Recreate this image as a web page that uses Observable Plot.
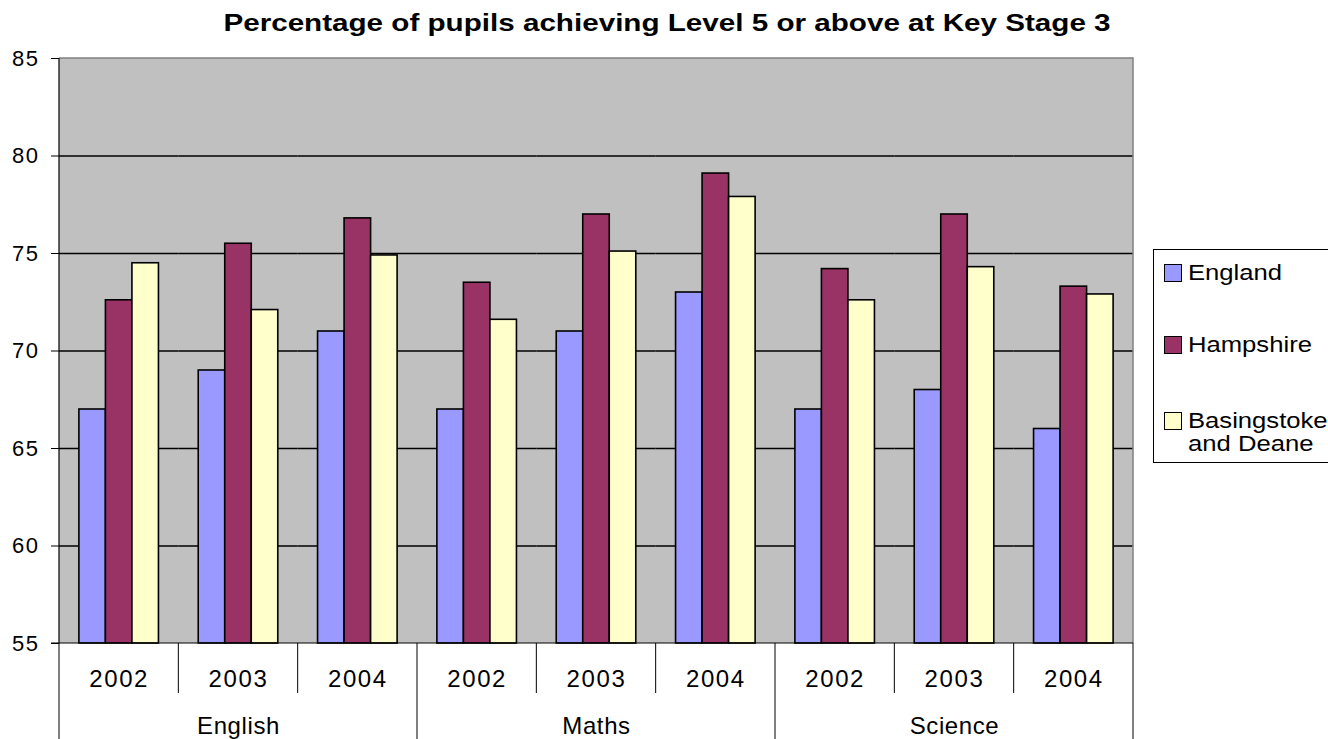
<!DOCTYPE html>
<html>
<head>
<meta charset="utf-8">
<script src="https://cdn.jsdelivr.net/npm/d3@7"></script>
<script src="https://cdn.jsdelivr.net/npm/@observablehq/plot@0.6"></script>
<style>
  body { margin: 0; background: #fff; font-family: "Liberation Sans", Arial, sans-serif; }
  #wrap { position: relative; width: 1328px; height: 739px; overflow: hidden; }
  #chart { position: absolute; left: 0; top: 0; }
  #title { position: absolute; left: 0; top: 11px; width: 1334px; text-align: center;
           font-weight: bold; font-size: 24px; line-height: 24px; color: #000;
           transform: scaleX(1.234); transform-origin: 667px 50%; }
  #legend { position: absolute; left: 1153px; top: 249px; width: 190px; height: 214px;
            border: 1px solid #000; box-sizing: border-box; background: #fff; font-size: 22px; color: #000; }
  .item { position: absolute; left: 10px; display: flex; align-items: flex-start; }
  .sw { width: 16px; height: 16px; border: 1px solid #000; margin-top: 3px; margin-right: 6px; flex: none; }
  .lbl { line-height: 23px; text-align: left; white-space: nowrap; transform: scaleX(1.165); transform-origin: 0 50%; }
  .yearlbl text { letter-spacing: 1.6px; }
  .subjlbl text { letter-spacing: 0.6px; }
</style>
</head>
<body>
<div id="wrap">
  <div id="chart"></div>
  <div id="title"></div>
  <div id="legend"></div>
</div>
<script>
(function () {
// ---- data ----
const titleText = "Percentage of pupils achieving Level 5 or above at Key Stage 3";
const subjects = ["English", "Maths", "Science"];
const years = ["2002", "2003", "2004"];
const series = ["England", "Hampshire", "Basingstoke and Deane"];
const colors = ["#9999FF", "#993366", "#FFFFCC"];
const england     = [67, 69, 71,   67, 71, 73,   67, 68, 66];
const hampshire   = [72.6, 75.5, 76.8,   73.5, 77, 79.1,   74.2, 77, 73.3];
const basingstoke = [74.5, 72.1, 74.9,   71.6, 75.1, 77.9,   72.6, 74.3, 72.9];
const yTicks = [55, 60, 65, 70, 75, 80, 85];
const yDomain = [55, 85];

// ---- build table ----
const seriesValues = [england, hampshire, basingstoke];
const keys = [];
const labels = [];
const rows = [];
subjects.forEach((s, i) => years.forEach((yr, j) => {
  const k = i * years.length + j;
  const key = s + " " + yr;
  keys.push(key);
  labels.push({key, subject: s, year: yr});
  seriesValues.forEach((arr, si) => rows.push({key, subject: s, year: yr, series: series[si], value: arr[k]}));
}));

const baseline = yDomain[0];
const font = '"Liberation Sans", Arial, sans-serif';

const plot = Plot.plot({
  width: 1140,
  height: 739,
  marginLeft: 59,
  marginRight: 7,
  marginTop: 58,
  marginBottom: 96,
  style: {fontFamily: font, fontSize: "22px", color: "#000", background: "transparent", overflow: "visible"},
  fx: {domain: keys, padding: 0, round: false, axis: null},
  x: {domain: series, paddingInner: 0, paddingOuter: 0.75, round: false, axis: null},
  y: {domain: yDomain, ticks: yTicks, tickSize: 8, tickPadding: 12, label: null, tickFormat: d => String(d)},
  color: {domain: series, range: colors},
  marks: [
    Plot.ruleY(yTicks.filter(t => t !== yDomain[0] && t !== yDomain[1]), {stroke: "#000", strokeWidth: 1.3}),
    Plot.barY(rows, {fx: "key", x: "series", y1: baseline, y2: "value", fill: "series", stroke: "#000", strokeWidth: 1.6}),
    Plot.text(labels, {fx: "key", text: "year", frameAnchor: "bottom", dy: 36, lineAnchor: "middle",
      fill: "#000", fontSize: 24, className: "yearlbl"}),
    Plot.text(labels.filter(d => d.year === years[1]), {fx: "key", text: "subject", frameAnchor: "bottom", dy: 83,
      lineAnchor: "middle", fill: "#000", fontSize: 24, className: "subjlbl"})
  ]
});
document.getElementById("chart").appendChild(plot);

// ---- frame decorations derived from the plot's scales ----
const svg = d3.select(plot);
svg.selectAll('[aria-label="y-axis tick label"] text').style("letter-spacing", "1.5px");
const ys = plot.scale("y");
const fxs = plot.scale("fx");
const yTop = ys.apply(yDomain[1]);
const yBottom = ys.apply(yDomain[0]);
const bounds = keys.map(k => fxs.apply(k));
bounds.push(fxs.apply(keys[keys.length - 1]) + fxs.bandwidth);
const xLeft = bounds[0], xRight = bounds[bounds.length - 1];

svg.insert("rect", ":first-child")
  .attr("x", xLeft).attr("y", yTop).attr("width", xRight - xLeft).attr("height", yBottom - yTop)
  .attr("fill", "#C0C0C0");
const deco = svg.append("g").attr("fill", "none");
deco.append("path").attr("d", `M${xLeft},${yTop}H${xRight}V${yBottom}`).attr("stroke", "#808080").attr("stroke-width", 1.5);
deco.append("path").attr("d", `M${xLeft},${yTop}V${yBottom}`).attr("stroke", "#000").attr("stroke-width", 1.2);
deco.append("path").attr("d", `M${xLeft - 8},${yBottom}H${xRight}`).attr("stroke", "#000").attr("stroke-width", 1.2);
bounds.forEach((bx, i) => {
  const len = (i % years.length === 0) ? 96 : 50;
  deco.append("line").attr("x1", bx).attr("x2", bx).attr("y1", yBottom).attr("y2", yBottom + len)
    .attr("stroke", "#000").attr("stroke-width", 1);
});

// ---- title & legend ----
document.getElementById("title").textContent = titleText;
const legend = document.getElementById("legend");
const legendTops = [11, 83, 159];
series.forEach((s, i) => {
  const item = document.createElement("div");
  item.className = "item";
  item.style.top = legendTops[i] + "px";
  const sw = document.createElement("div");
  sw.className = "sw";
  sw.style.background = colors[i];
  const lbl = document.createElement("div");
  lbl.className = "lbl";
  if (s === "Basingstoke and Deane") {
    lbl.innerHTML = "Basingstoke<br>and Deane";
  } else {
    lbl.textContent = s;
  }
  item.appendChild(sw);
  item.appendChild(lbl);
  legend.appendChild(item);
});
})();
</script>
</body>
</html>
